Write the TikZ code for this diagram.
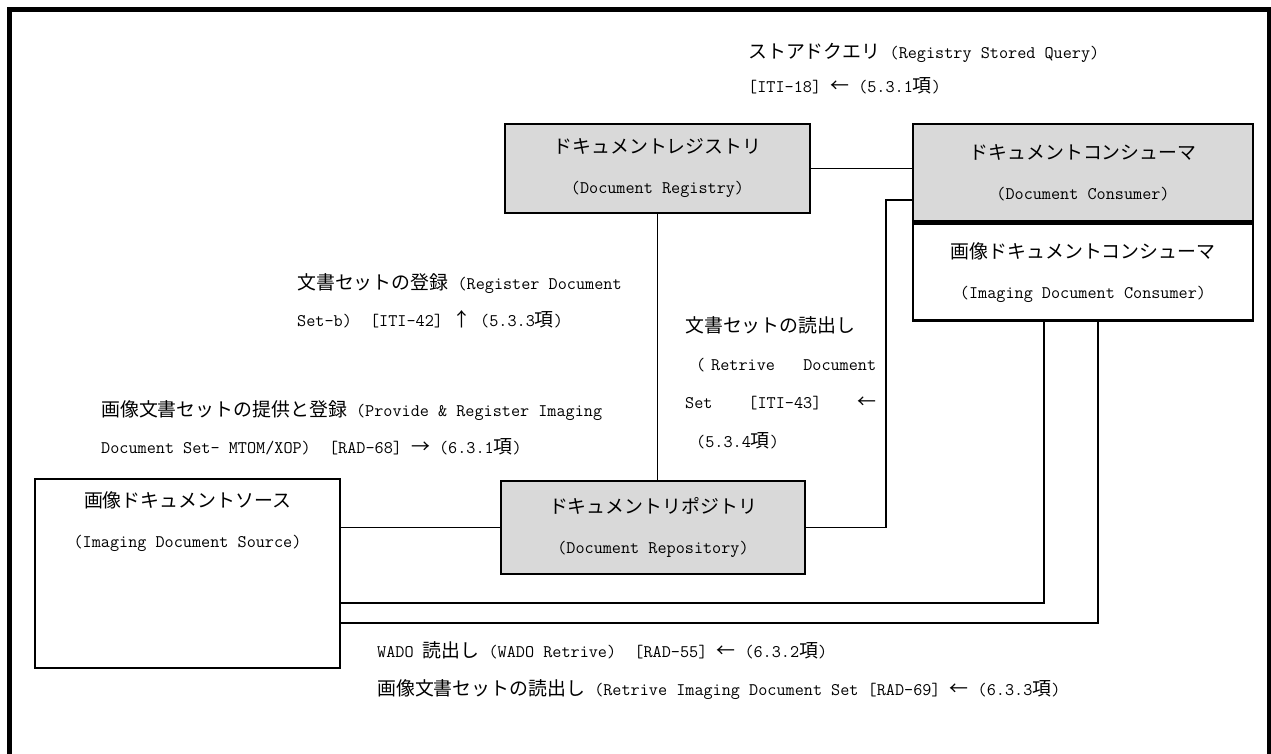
\documentclass[tikz,border=0pt]{standalone}
\usepackage{fontspec}
\newfontfamily\cjk[Scale=1.068]{Noto Sans CJK JP}
\newcommand{\jp}[1]{{\cjk #1}}
\usetikzlibrary{positioning}
\definecolor{boxgray}{RGB}{217,217,217}
\tikzset{
  actor/.style={draw, line width=2.6pt, fill=boxgray, inner sep=0pt, align=center,
    font=\ttfamily\fontsize{17.7}{40}\selectfont},
  actorw/.style={actor, fill=white},
  tx/.style={line width=1.8pt},
  lbl/.style={inner sep=0pt, anchor=west, align=left,
    font=\ttfamily\fontsize{17.7}{37}\selectfont},
}

\begin{document}
\begin{tikzpicture}[x=1pt,y=-1pt]
\useasboundingbox (0,0) rectangle (1271,754);
\draw[line width=4.6pt] (9.5,790) -- (9.5,9.5) -- (1269.5,9.5) -- (1269.5,790);

\node[actor, minimum width=305pt, minimum height=89pt] (registry) at (657.5,168.5)
  {\jp{ドキュメントレジストリ}\\(Document Registry)};
\node[actor, minimum width=340pt, minimum height=97pt] (consumer) at (1083,172.5)
  {\jp{ドキュメントコンシューマ}\\(Document Consumer)};
\node[actorw, minimum width=340pt, minimum height=97pt, below=0pt of consumer] (imgconsumer)
  {\jp{画像ドキュメントコンシューマ}\\(Imaging Document Consumer)};
\node[actor, minimum width=304pt, minimum height=93pt] (repo) at (653,527.5)
  {\jp{ドキュメントリポジトリ}\\(Document Repository)};
\node[actorw, minimum width=305pt, minimum height=189pt] (source) at (187.5,573.5) {};
\node[inner sep=0pt, align=center, font=\ttfamily\fontsize{17.7}{40}\selectfont] (srctext)
  at ([yshift=-43.5pt]source.north) {\jp{画像ドキュメントソース}\\(Imaging Document Source)};

\coordinate (getbend) at (886,200);
\coordinate (wadobend) at (1044,603);
\coordinate (setbend) at (1098,623);

\draw[tx] (registry.east) -- (registry.east -| consumer.west);
\draw[tx] (registry.south) -- (registry.south |- repo.north);
\draw[tx] (repo.west) -- (repo.west -| source.east);
\draw[tx] (repo.east) -| (getbend) -- (getbend -| consumer.west);
\draw[tx] (wadobend -| source.east) -- (wadobend) -- (wadobend |- imgconsumer.south);
\draw[tx] (setbend -| source.east) -- (setbend) -- (setbend |- imgconsumer.south);

\node[lbl] (qrylbl) at (748,69)
  {\jp{ストアドクエリ} (Registry Stored Query)\\[-3pt]{[}ITI-18] \jp{←} (5.3.1\jp{項})};
\node[lbl] (reglbl) at (297,300.5)
  {\jp{文書セットの登録} (Register Document\\Set-b)~ [ITI-42] \jp{↑} (5.3.3\jp{項})};
\node[lbl, text width=191pt, font=\ttfamily\fontsize{17.7}{38.3}\selectfont] (getlbl) at (685,382.5)
  {\jp{文書セットの読出し}\\
   \hspace*{11pt}(~Retrive\hfill Document\\
   Set\hfill [ITI-43]\hfill\jp{←}\\
   \hspace*{11pt}(5.3.4\jp{項})};
\node[lbl] (provlbl) at (101,427.5)
  {\jp{画像文書セットの提供と登録} (Provide \& Register Imaging\\Document Set- MTOM/XOP)~ [RAD-68] \jp{→} (6.3.1\jp{項})};
\node[lbl, font=\ttfamily\fontsize{17.7}{38}\selectfont] (wadolbl) at (377,671)
  {WADO \jp{読出し} (WADO Retrive)~ [RAD-55] \jp{←} (6.3.2\jp{項})\\
   \jp{画像文書セットの読出し} (Retrive Imaging Document Set [RAD-69] \jp{←} (6.3.3\jp{項})};
\end{tikzpicture}
\end{document}
